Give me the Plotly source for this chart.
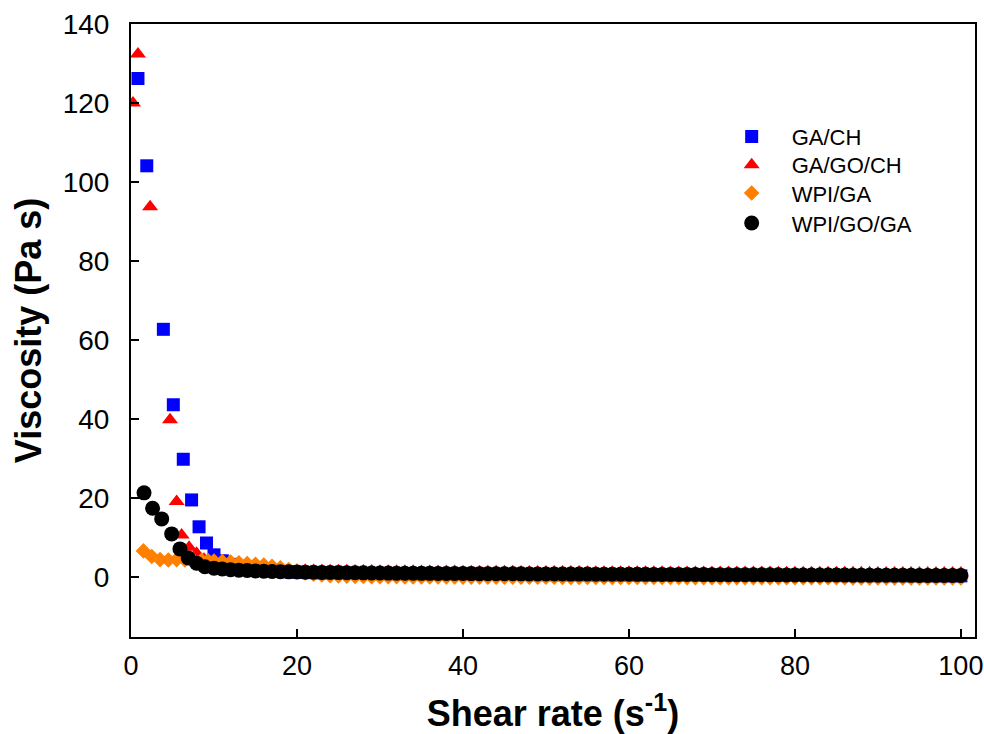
import plotly.graph_objects as go

# ---- data ----
rate_tail = [10, 11, 12, 13, 14, 15, 16, 17, 18, 19,
             20, 21, 22, 23, 24, 25, 26, 27, 28, 29,
             30, 31, 32, 33, 34, 35, 36, 37, 38, 39,
             40, 41, 42, 43, 44, 45, 46, 47, 48, 49,
             50, 51, 52, 53, 54, 55, 56, 57, 58, 59,
             60, 61, 62, 63, 64, 65, 66, 67, 68, 69,
             70, 71, 72, 73, 74, 75, 76, 77, 78, 79,
             80, 81, 82, 83, 84, 85, 86, 87, 88, 89,
             90, 91, 92, 93, 94, 95, 96, 97, 98, 99, 100]

ga_ch_rate_head = [0.84, 1.9, 3.9, 5.1, 6.3, 7.3, 8.2, 9.1]
ga_ch_head = [126.2, 104.1, 62.7, 43.6, 29.8, 19.5, 12.7, 8.6]
ga_ch_tail = [5.6, 4.1, 3.2, 2.6, 2.2, 1.9, 1.7, 1.5, 1.4, 1.3,
              1.2, 1.15, 1.1, 1.05, 1.0, 0.97, 0.94, 0.91, 0.88, 0.86,
              0.84, 0.82, 0.80, 0.78, 0.76, 0.75, 0.73, 0.72, 0.71, 0.70,
              0.68, 0.67, 0.66, 0.65, 0.64, 0.63, 0.62, 0.61, 0.60, 0.59,
              0.58, 0.57, 0.56, 0.55, 0.55, 0.54, 0.53, 0.52, 0.52, 0.51,
              0.50, 0.49, 0.49, 0.48, 0.47, 0.47, 0.46, 0.45, 0.45, 0.44,
              0.43, 0.43, 0.42, 0.42, 0.41, 0.40, 0.40, 0.39, 0.39, 0.38,
              0.38, 0.37, 0.37, 0.36, 0.36, 0.35, 0.35, 0.34, 0.34, 0.33,
              0.33, 0.32, 0.32, 0.31, 0.31, 0.30, 0.30, 0.29, 0.29, 0.28, 0.28]

ga_go_ch_rate_head = [0.24, 0.84, 2.3, 4.7, 5.5, 6.1, 7.0, 7.9, 8.8, 9.6]
ga_go_ch_head = [120.0, 132.4, 93.7, 39.8, 19.1, 10.6, 7.5, 6.0, 4.5, 3.6]
ga_go_ch_tail = [3.2, 2.8, 2.5, 2.3, 2.15, 2.05, 1.95, 1.88, 1.82, 1.76,
                 1.72, 1.68, 1.65, 1.62, 1.59, 1.57, 1.55, 1.53, 1.51, 1.49,
                 1.47, 1.46, 1.44, 1.43, 1.42, 1.40, 1.39, 1.38, 1.37, 1.36,
                 1.35, 1.34, 1.33, 1.32, 1.31, 1.30, 1.29, 1.28, 1.27, 1.27,
                 1.26, 1.25, 1.24, 1.24, 1.23, 1.22, 1.22, 1.21, 1.20, 1.20,
                 1.19, 1.18, 1.18, 1.17, 1.17, 1.16, 1.16, 1.15, 1.14, 1.14,
                 1.13, 1.13, 1.12, 1.12, 1.11, 1.11, 1.10, 1.10, 1.09, 1.09,
                 1.08, 1.08, 1.07, 1.07, 1.06, 1.06, 1.05, 1.05, 1.04, 1.04,
                 1.03, 1.03, 1.02, 1.02, 1.01, 1.01, 1.00, 1.00, 0.99, 0.99, 0.98]

wpi_ga_rate_head = [1.5, 2.5, 3.5, 4.5, 5.5, 6.5, 7.5, 8.5, 9.3]
wpi_ga_head = [6.6, 5.2, 4.4, 4.3, 4.4, 4.3, 4.2, 4.2, 4.1]
wpi_ga_tail = [4.0, 3.9, 3.8, 3.6, 3.4, 3.2, 3.0, 2.7, 2.3, 1.9,
               1.4, 1.0, 0.7, 0.5, 0.35, 0.25, 0.2, 0.15, 0.1, 0.08,
               0.06, 0.05, 0.04, 0.03, 0.02, 0.01, 0.0, 0.0, -0.01, -0.02,
               -0.03, -0.03, -0.04, -0.05, -0.05, -0.06, -0.07, -0.07, -0.08, -0.08,
               -0.09, -0.09, -0.10, -0.10, -0.11, -0.11, -0.12, -0.12, -0.12, -0.13,
               -0.13, -0.14, -0.14, -0.14, -0.15, -0.15, -0.15, -0.16, -0.16, -0.16,
               -0.17, -0.17, -0.17, -0.18, -0.18, -0.18, -0.19, -0.19, -0.19, -0.19,
               -0.20, -0.20, -0.20, -0.21, -0.21, -0.21, -0.21, -0.22, -0.22, -0.22,
               -0.22, -0.22, -0.23, -0.23, -0.23, -0.23, -0.24, -0.24, -0.24, -0.24, -0.25]

wpi_go_ga_rate_head = [1.57, 2.6, 3.7, 4.9, 5.9, 6.9, 7.9, 8.9]
wpi_go_ga_head = [21.3, 17.4, 14.7, 10.9, 7.1, 4.8, 3.5, 2.6]
wpi_go_ga_tail = [2.2, 2.0, 1.85, 1.72, 1.62, 1.53, 1.46, 1.40, 1.35, 1.30,
                  1.26, 1.22, 1.19, 1.16, 1.13, 1.10, 1.08, 1.06, 1.04, 1.02,
                  1.00, 0.98, 0.97, 0.95, 0.94, 0.92, 0.91, 0.90, 0.89, 0.88,
                  0.86, 0.85, 0.84, 0.83, 0.82, 0.81, 0.80, 0.79, 0.78, 0.77,
                  0.76, 0.75, 0.74, 0.73, 0.72, 0.72, 0.71, 0.70, 0.69, 0.68,
                  0.67, 0.66, 0.66, 0.65, 0.64, 0.63, 0.62, 0.62, 0.61, 0.60,
                  0.59, 0.58, 0.58, 0.57, 0.56, 0.55, 0.55, 0.54, 0.53, 0.52,
                  0.52, 0.51, 0.50, 0.49, 0.49, 0.48, 0.47, 0.46, 0.46, 0.45,
                  0.44, 0.43, 0.43, 0.42, 0.41, 0.40, 0.40, 0.39, 0.38, 0.37, 0.37]

series_names = ["GA/CH", "GA/GO/CH", "WPI/GA", "WPI/GO/GA"]
x_ticks = [0, 20, 40, 60, 80, 100]
y_ticks = [0, 20, 40, 60, 80, 100, 120, 140]

# ---- figure ----
series = [
    (ga_ch_rate_head + rate_tail, ga_ch_head + ga_ch_tail, "square", "#0000FF", 13),
    (ga_go_ch_rate_head + rate_tail, ga_go_ch_head + ga_go_ch_tail, "triangle-up", "#FF0000", 14),
    (wpi_ga_rate_head + rate_tail, wpi_ga_head + wpi_ga_tail, "diamond", "#FF8000", 12),
    (wpi_go_ga_rate_head + rate_tail, wpi_go_ga_head + wpi_go_ga_tail, "circle", "#000000", 15),
]
legend_ids = ["legend", "legend2", "legend3", "legend4"]
legend_rows = [0.816, 0.770, 0.724, 0.675]

font_family = "Arial, Liberation Sans, sans-serif"

fig = go.Figure()
for name, lid, (xs, ys, sym, col, sz) in zip(series_names, legend_ids, series):
    fig.add_trace(go.Scatter(
        x=xs, y=ys, mode="markers", name=name, legend=lid,
        marker=dict(symbol=sym, color=col, size=sz, line=dict(width=0)),
    ))

legend_layout = {}
for lid, ypos in zip(legend_ids, legend_rows):
    legend_layout[lid] = dict(
        x=0.688, y=ypos, xanchor="left", yanchor="middle",
        bgcolor="rgba(0,0,0,0)", borderwidth=0,
        font=dict(size=22, family=font_family),
        itemwidth=70,
    )

fig.update_layout(
    width=984, height=734,
    paper_bgcolor="white", plot_bgcolor="white",
    margin=dict(l=131, r=9, t=24, b=97, autoexpand=False),
    font=dict(family=font_family, color="black"),
    showlegend=True,
    **legend_layout,
)
fig.update_xaxes(
    range=[0, 101.7], tickvals=x_ticks, ticktext=[str(v) for v in x_ticks],
    ticks="inside", ticklen=8, tickwidth=2, tickcolor="black",
    showline=True, linewidth=2, linecolor="black", mirror=True,
    showgrid=False, zeroline=False, automargin=False,
    ticklabeloverflow="allow", ticklabelstandoff=4,
    tickfont=dict(size=27, family=font_family),
    title=dict(text="Shear rate (s<sup>-1</sup>)", standoff=21,
               font=dict(size=36, family=font_family, weight="bold")),
)
fig.update_yaxes(
    range=[-15.2, 140], tickvals=y_ticks, ticktext=[str(v) for v in y_ticks],
    ticks="inside", ticklen=8, tickwidth=2, tickcolor="black",
    showline=True, linewidth=2, linecolor="black", mirror=True,
    showgrid=False, zeroline=False, automargin=False,
    ticklabeloverflow="allow", ticklabelstandoff=14,
    tickfont=dict(size=28, family=font_family),
    title=dict(text="Viscosity (Pa s)", standoff=10,
               font=dict(size=36, family=font_family, weight="bold")),
)

fig.write_html("out.html",
               config={"displayModeBar": False},
               post_script="document.body.style.margin='0px';document.body.style.overflow='hidden';")
